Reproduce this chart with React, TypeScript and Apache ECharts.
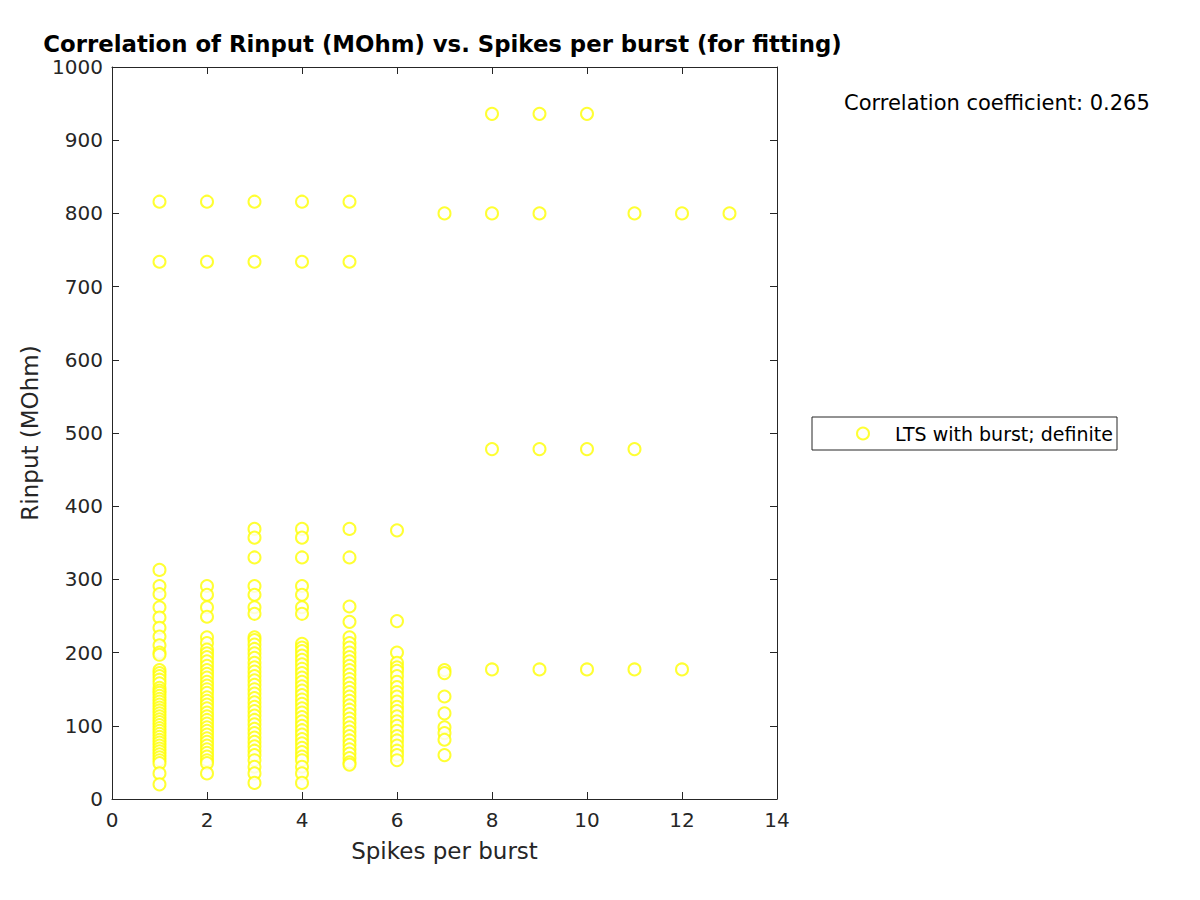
import React, { useEffect, useRef } from "react";
import * as echarts from "echarts";

const TITLE = "Correlation of Rinput (MOhm) vs. Spikes per burst (for fitting)";
const X_NAME = "Spikes per burst";
const Y_NAME = "Rinput (MOhm)";
const SERIES_NAME = "LTS with burst; definite";
const CORR_TEXT = "Correlation coefficient: 0.265";

// Rinput values (MOhm) for each spikes-per-burst column
const spikes1 = [816, 734, 313, 291, 280, 262, 248, 234, 222, 210, 200, 197, 176, 172, 168, 163, 158, 152, 148, 145, 141, 137, 133, 129, 125, 121, 117, 113, 109, 105, 101, 97, 93, 89, 85, 81, 77, 73, 69, 65, 61, 57, 53, 49, 35, 20];
const spikes2 = [816, 734, 291, 279, 262, 249, 221, 213, 204, 199, 194, 188, 182, 176, 171, 166, 160, 155, 150, 145, 139, 134, 129, 124, 118, 113, 108, 103, 98, 93, 88, 83, 78, 73, 68, 63, 58, 53, 49, 35];
const spikes3 = [816, 734, 369, 357, 330, 291, 279, 262, 253, 221, 217, 211, 205, 199, 193, 186, 180, 174, 168, 162, 156, 150, 144, 138, 132, 126, 120, 114, 108, 102, 96, 90, 84, 78, 72, 66, 60, 53, 44, 35, 22];
const spikes4 = [816, 734, 369, 357, 330, 291, 279, 262, 253, 212, 207, 202, 196, 190, 184, 178, 172, 166, 160, 154, 148, 142, 136, 130, 124, 118, 112, 106, 100, 94, 88, 82, 76, 70, 64, 58, 53, 44, 35, 22];
const spikes5 = [816, 734, 369, 330, 263, 242, 221, 213, 207, 200, 194, 188, 182, 176, 170, 164, 158, 152, 146, 140, 134, 128, 122, 116, 110, 104, 98, 92, 86, 80, 74, 68, 62, 56, 50, 47];
const spikes6 = [367, 243, 200, 186, 180, 175, 168, 160, 153, 146, 140, 133, 126, 120, 113, 106, 100, 93, 86, 80, 73, 66, 60, 53];
const spikes7 = [800, 176, 172, 140, 117, 98, 90, 81, 60];
const spikes8 = [936, 800, 478, 177];
const spikes9 = [936, 800, 478, 177];
const spikes10 = [936, 478, 177];
const spikes11 = [800, 478, 177];
const spikes12 = [800, 177];
const spikes13 = [800];

const columns: [number, number[]][] = [
  [1, spikes1], [2, spikes2], [3, spikes3], [4, spikes4], [5, spikes5],
  [6, spikes6], [7, spikes7], [8, spikes8], [9, spikes9], [10, spikes10],
  [11, spikes11], [12, spikes12], [13, spikes13],
];

const xTicks = [0, 2, 4, 6, 8, 10, 12, 14];
const yTicks = [0, 100, 200, 300, 400, 500, 600, 700, 800, 900, 1000];

export default function App() {
  const ref = useRef<HTMLDivElement>(null);
  useEffect(() => {
    if (!ref.current) return;
    const chart = echarts.init(ref.current, null, { renderer: "svg" });
    const data: number[][] = [];
    columns.forEach(([x, vals]) => vals.forEach((v) => data.push([x, v])));
    const axisColor = "#262626";
    const font = "DejaVu Sans";
    const commonX = {
      type: "value" as const,
      min: xTicks[0],
      max: xTicks[xTicks.length - 1],
      interval: 2,
      splitLine: { show: false },
      axisLine: { show: true, onZero: false, lineStyle: { color: axisColor, width: 1 } },
      axisTick: { show: true, inside: true, length: 7, lineStyle: { color: axisColor } },
    };
    const commonY = {
      type: "value" as const,
      min: yTicks[0],
      max: yTicks[yTicks.length - 1],
      interval: 100,
      splitLine: { show: false },
      axisLine: { show: true, onZero: false, lineStyle: { color: axisColor, width: 1 } },
      axisTick: { show: true, inside: true, length: 7, lineStyle: { color: axisColor } },
    };
    chart.setOption({
      animation: false,
      backgroundColor: "#ffffff",
      title: {
        text: TITLE,
        left: 442.5,
        textAlign: "center",
        top: 34,
        padding: 0,
        textStyle: { fontFamily: font, fontSize: 22.8, lineHeight: 20, fontWeight: "bold", color: "#000" },
      },
      grid: { left: 112, top: 67, width: 665, height: 732, containLabel: false },
      xAxis: [
        {
          ...commonX,
          position: "bottom",
          name: X_NAME,
          nameLocation: "middle",
          nameGap: 40,
          nameTextStyle: { fontFamily: font, fontSize: 23, color: axisColor },
          axisLabel: { margin: 11, fontFamily: font, fontSize: 20, color: axisColor },
        },
        { ...commonX, position: "top", axisLabel: { show: false } },
      ],
      yAxis: [
        {
          ...commonY,
          position: "left",
          name: Y_NAME,
          nameLocation: "middle",
          nameGap: 70,
          nameTextStyle: { fontFamily: font, fontSize: 23, color: axisColor },
          axisLabel: { margin: 9, fontFamily: font, fontSize: 20, lineHeight: 16, color: axisColor, formatter: (v: number) => String(v) },
        },
        { ...commonY, position: "right", axisLabel: { show: false } },
      ],
      legend: {
        data: [SERIES_NAME],
        left: 851,
        top: 419,
        itemWidth: 12,
        itemHeight: 12,
        textStyle: { fontFamily: font, fontSize: 19, color: "#000", padding: [0, 0, 0, 21] },
      },
      graphic: [
        {
          type: "rect",
          shape: { x: 812, y: 417, width: 305, height: 33 },
          style: { fill: "none", stroke: axisColor, lineWidth: 1 },
          silent: true,
        },
        {
          type: "text",
          x: 844,
          y: 103,
          style: { text: CORR_TEXT, fontFamily: font, fontSize: 21, fill: "#000", verticalAlign: "middle" },
        },
      ],
      series: [
        {
          name: SERIES_NAME,
          type: "scatter",
          data,
          symbol: "emptyCircle",
          symbolSize: 12,
          itemStyle: { color: "#ffff00", borderColor: "#ffff00", borderWidth: 2 },
        },
      ],
    });
    return () => chart.dispose();
  }, []);
  return <div ref={ref} style={{ position: "fixed", left: 0, top: 0, width: 1200, height: 900 }} />;
}
